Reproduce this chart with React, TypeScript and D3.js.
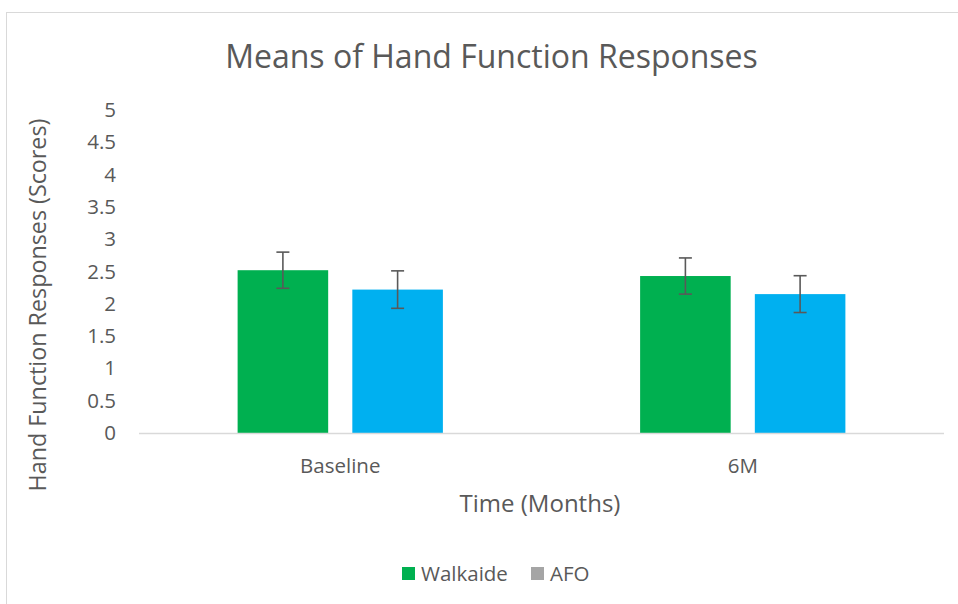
import React from "react";
import * as d3 from "d3";

const categories = ["Baseline", "6M"];
const seriesNames = ["Walkaide", "AFO"];
const walkaideMeans = [2.52, 2.43];
const afoMeans = [2.22, 2.15];
const walkaideErr = [0.28, 0.28];
const afoErr = [0.29, 0.285];
const yTicks = [0, 0.5, 1, 1.5, 2, 2.5, 3, 3.5, 4, 4.5, 5];

const W = 958;
const H = 604;
const barColors = ["#00B050", "#00B0F0"];
const legendColors = ["#00B050", "#A5A5A5"];
const textColor = "#595959";
const font = "'Open Sans', sans-serif";

export default function App() {
  const plotLeft = 139;
  const plotRight = 944;
  const y = d3.scaleLinear().domain([0, 5]).range([433, 110]);
  const x0 = d3
    .scaleBand<string>()
    .domain(categories)
    .range([plotLeft, plotRight])
    .paddingInner(0.49)
    .paddingOuter(0.245);
  const x1 = d3
    .scaleBand<string>()
    .domain(seriesNames)
    .range([0, x0.bandwidth()])
    .paddingInner(0.2105);

  const series = [
    { name: seriesNames[0], means: walkaideMeans, errs: walkaideErr },
    { name: seriesNames[1], means: afoMeans, errs: afoErr },
  ];

  return (
    <svg
      width={W}
      height={H}
      style={{ position: "absolute", left: 0, top: 0, background: "#fff" }}
    >
      <rect x={6.5} y={12.5} width={1000} height={700} fill="#fff" stroke="#D9D9D9" strokeWidth={1} />
      <text
        x={491.5}
        y={68}
        textAnchor="middle"
        fontFamily={font}
        fontSize={32}
        fill={textColor}
      >
        Means of Hand Function Responses
      </text>

      {yTicks.map((t) => (
        <text
          key={t}
          x={116}
          y={y(t) + 7}
          textAnchor="end"
          fontFamily={font}
          fontSize={20.5}
          fill={textColor}
        >
          {t}
        </text>
      ))}

      {series.map((s, si) =>
        categories.map((c, ci) => {
          const bx = (x0(c) ?? 0) + (x1(s.name) ?? 0);
          const bw = x1.bandwidth();
          const v = s.means[ci];
          const e = s.errs[ci];
          const cx = bx + bw / 2;
          return (
            <g key={s.name + c}>
              <rect x={bx} y={y(v)} width={bw} height={y(0) - y(v)} fill={barColors[si]} />
              <line x1={cx} x2={cx} y1={y(v + e)} y2={y(v - e)} stroke="#595959" strokeWidth={1.6} />
              <line x1={cx - 6.5} x2={cx + 6.5} y1={y(v + e)} y2={y(v + e)} stroke="#595959" strokeWidth={1.6} />
              <line x1={cx - 6.5} x2={cx + 6.5} y1={y(v - e)} y2={y(v - e)} stroke="#595959" strokeWidth={1.6} />
            </g>
          );
        })
      )}

      <line x1={plotLeft} x2={plotRight} y1={y(0) + 0.5} y2={y(0) + 0.5} stroke="#D9D9D9" strokeWidth={1.3} />

      {categories.map((c) => (
        <text
          key={c}
          x={(x0(c) ?? 0) + x0.bandwidth() / 2}
          y={473}
          textAnchor="middle"
          fontFamily={font}
          fontSize={20.5}
          fill={textColor}
        >
          {c}
        </text>
      ))}

      <text x={540} y={512} textAnchor="middle" fontFamily={font} fontSize={24} fill={textColor}>
        Time (Months)
      </text>
      <text
        transform={`translate(46,305) rotate(-90)`}
        textAnchor="middle"
        fontFamily={font}
        fontSize={23.3}
        fill={textColor}
      >
        Hand Function Responses (Scores)
      </text>

      {seriesNames.map((n, i) => {
        const lx = i === 0 ? 402 : 531;
        return (
          <g key={n}>
            <rect x={lx} y={567} width={13} height={13} fill={legendColors[i]} />
            <text x={lx + 19} y={581} fontFamily={font} fontSize={20.5} fill={textColor}>
              {n}
            </text>
          </g>
        );
      })}
    </svg>
  );
}
